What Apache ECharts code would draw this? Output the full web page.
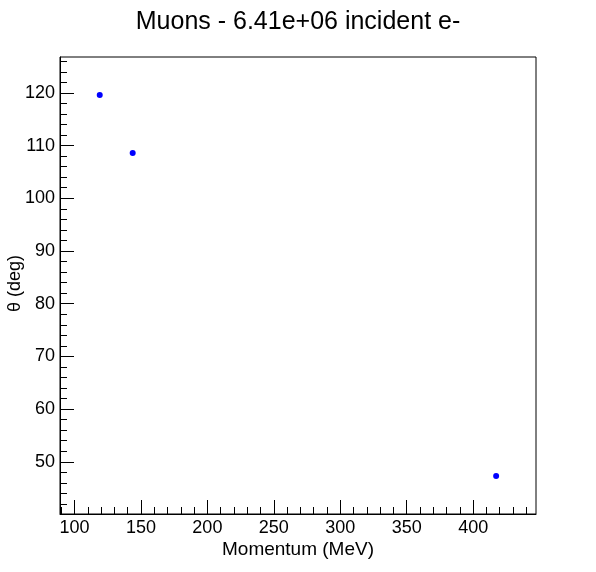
<!DOCTYPE html>
<html>
<head>
<meta charset="utf-8">
<script src="https://cdn.jsdelivr.net/npm/echarts@6/dist/echarts.min.js"></script>
<style>
html,body{margin:0;padding:0;background:#fff;}
#c{width:596px;height:572px;}
</style>
</head>
<body>
<div id="c"></div>
<script>
var titleText = "Muons - 6.41e+06 incident e-";
var xName = "Momentum (MeV)";
var yName = "\u03b8 (deg)";
var momentum = [119.0, 143.8, 417.3];
var theta = [119.6, 108.6, 47.3];
var xRange = [89.1, 447.3];
var yRange = [40.1, 126.8];
var xMajorTicks = [100, 150, 200, 250, 300, 350, 400];
var xMinorTicks = [90,100,110,120,130,140,150,160,170,180,190,200,210,220,230,240,250,260,270,280,290,300,310,320,330,340,350,360,370,380,390,400,410,420,430,440];
var yMajorTicks = [50, 60, 70, 80, 90, 100, 110, 120];
var yMinorTicks = [42,44,46,48,50,52,54,56,58,60,62,64,66,68,70,72,74,76,78,80,82,84,86,88,90,92,94,96,98,100,102,104,106,108,110,112,114,116,118,120,122,124,126];

var font = "Liberation Sans, Arial, Helvetica, sans-serif";
var chart = echarts.init(document.getElementById('c'), null, {renderer: 'canvas'});
var points = momentum.map(function (m, i) { return [m, theta[i]]; });

chart.setOption({
  animation: false,
  backgroundColor: '#ffffff',
  title: {
    text: titleText,
    left: 'center',
    top: 5,
    textStyle: {fontFamily: font, fontSize: 25, fontWeight: 'normal', color: '#000'}
  },
  grid: {left: 60, right: 60, top: 57, bottom: 58, show: true, borderColor: '#000', borderWidth: 1, backgroundColor: 'transparent', containLabel: false, outerBoundsMode: 'none'},
  xAxis: [{
    type: 'value', min: xRange[0], max: xRange[1], position: 'bottom',
    name: xName, nameLocation: 'middle', nameGap: 26, nameMoveOverlap: false,
    nameTextStyle: {fontFamily: font, fontSize: 19, color: '#000'},
    axisLine: {show: true, onZero: false, lineStyle: {color: '#000', width: 1}},
    axisTick: {show: true, inside: true, length: 14, customValues: xMajorTicks, lineStyle: {color: '#000'}},
    axisLabel: {show: true, customValues: xMajorTicks, margin: 5, fontFamily: font, fontSize: 18, color: '#000'},
    splitLine: {show: false}
  }, {
    type: 'value', min: xRange[0], max: xRange[1], position: 'bottom',
    axisLine: {show: false, onZero: false},
    axisTick: {show: true, inside: true, length: 7, customValues: xMinorTicks, lineStyle: {color: '#000'}},
    axisLabel: {show: false},
    splitLine: {show: false}
  }],
  yAxis: [{
    type: 'value', min: yRange[0], max: yRange[1], position: 'left',
    name: yName, nameLocation: 'middle', nameGap: 36, nameRotate: 90, nameMoveOverlap: false,
    nameTextStyle: {fontFamily: font, fontSize: 18, color: '#000', padding: [0, 0, 0, 4]},
    axisLine: {show: true, onZero: false, lineStyle: {color: '#000', width: 1}},
    axisTick: {show: true, inside: true, length: 14, customValues: yMajorTicks, lineStyle: {color: '#000'}},
    axisLabel: {show: true, customValues: yMajorTicks, margin: 5, fontFamily: font, fontSize: 18, color: '#000'},
    splitLine: {show: false}
  }, {
    type: 'value', min: yRange[0], max: yRange[1], position: 'left',
    axisLine: {show: false, onZero: false},
    axisTick: {show: true, inside: true, length: 7, customValues: yMinorTicks, lineStyle: {color: '#000'}},
    axisLabel: {show: false},
    splitLine: {show: false}
  }],
  series: [{
    type: 'scatter',
    xAxisIndex: 0, yAxisIndex: 0,
    data: points,
    symbol: 'circle',
    symbolSize: 6,
    itemStyle: {color: '#0000ff', opacity: 1}
  }]
});
</script>
</body>
</html>
